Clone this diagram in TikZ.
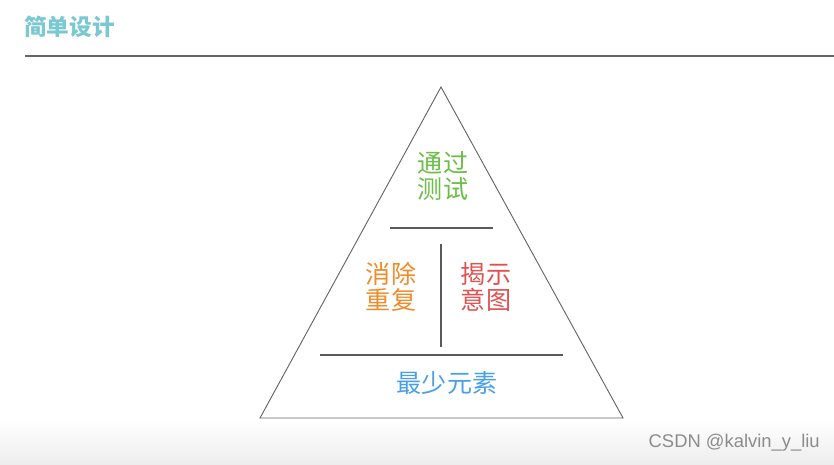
\documentclass[tikz,border=0pt]{standalone}
\usepackage{fontspec}
\setmainfont{Liberation Sans}
\newfontfamily\cjk{Noto Sans CJK SC}
\definecolor{titleteal}{RGB}{122,200,210}
\definecolor{passgreen}{RGB}{108,190,72}
\definecolor{duporange}{RGB}{240,140,42}
\definecolor{intentred}{RGB}{224,82,82}
\definecolor{minblue}{RGB}{74,160,232}
\tikzset{
  word/.style={font=\cjk\fontsize{18.8}{19.8}\selectfont, align=center, inner sep=0pt},
  edge/.style={draw=black!60, line width=0.7pt},
  rule/.style={draw=black!65, line width=0.9pt}
}
\begin{document}
\begin{tikzpicture}[x=0.75pt, y=-0.75pt]
    \useasboundingbox (0,0) rectangle (834,464);
    % Background, greyish at the bottom
    \fill[white] (0,0) rectangle (834,464);
    \shade[top color=white, bottom color=black!7] (0,420) rectangle (834,464);

    % Title
    \node[font=\cjk\bfseries\fontsize{17}{20}\selectfont, text=titleteal, anchor=west, inner sep=0pt] (title) at (24,27) {简单设计};
    \draw[draw=black!60, line width=1.3pt] (25,56) -- (834,56);

    % Pyramid
    \coordinate (top) at (441,87);
    \coordinate (left) at (260,418);
    \coordinate (right) at (623,418);
    \draw[edge] (top) -- (right) -- (left) -- cycle;

    % Dividers
    \coordinate (a1) at (390,228);
    \coordinate (a2) at (493,228);
    \coordinate (v1) at (441,244);
    \coordinate (v2) at (441,347);
    \coordinate (b1) at (320,355);
    \coordinate (b2) at (563,355);
    \draw[rule] (a1) -- (a2);
    \draw[rule] (v1) -- (v2);
    \draw[rule] (b1) -- (b2);

    % Layers
    \node[word, text=passgreen] (pass) at (443,176) {通过\\测试};
    \node[word, text=duporange] (dup) at (391,287) {消除\\重复};
    \node[word, text=intentred] (intent) at (486,287) {揭示\\意图};
    \node[word, text=minblue] (fewest) at (447,383) {最少元素};

    % Watermark
    \node[text=black!45, font=\fontsize{13.8}{16}\selectfont, anchor=east, inner sep=0pt] (mark) at (820,443) {CSDN @kalvin\_y\_liu};
\end{tikzpicture}
\end{document}
